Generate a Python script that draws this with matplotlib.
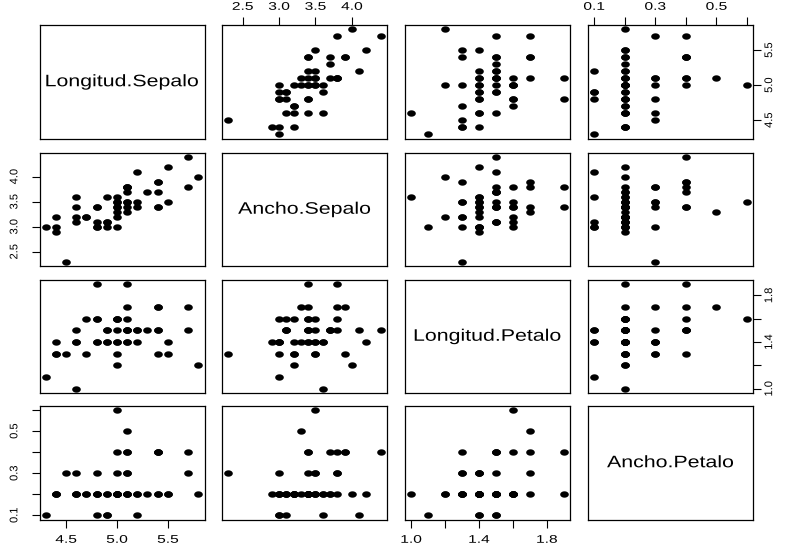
import matplotlib
matplotlib.use("Agg")
import matplotlib.pyplot as plt
import numpy as np
from matplotlib.path import Path
from matplotlib.transforms import Affine2D
from matplotlib.patheffects import AbstractPathEffect

plt.rcParams['font.family'] = ['Liberation Sans', 'DejaVu Sans']

# Iris setosa (50 obs)
longitud_sepalo = [5.1, 4.9, 4.7, 4.6, 5.0, 5.4, 4.6, 5.0, 4.4, 4.9,
                   5.4, 4.8, 4.8, 4.3, 5.8, 5.7, 5.4, 5.1, 5.7, 5.1,
                   5.4, 5.1, 4.6, 5.1, 4.8, 5.0, 5.0, 5.2, 5.2, 4.7,
                   4.8, 5.4, 5.2, 5.5, 4.9, 5.0, 5.5, 4.9, 4.4, 5.1,
                   5.0, 4.5, 4.4, 5.0, 5.1, 4.8, 5.1, 4.6, 5.3, 5.0]
ancho_sepalo = [3.5, 3.0, 3.2, 3.1, 3.6, 3.9, 3.4, 3.4, 2.9, 3.1,
                3.7, 3.4, 3.0, 3.0, 4.0, 4.4, 3.9, 3.5, 3.8, 3.8,
                3.4, 3.7, 3.6, 3.3, 3.4, 3.0, 3.4, 3.5, 3.4, 3.2,
                3.1, 3.4, 4.1, 4.2, 3.1, 3.2, 3.5, 3.6, 3.0, 3.4,
                3.5, 2.3, 3.2, 3.5, 3.8, 3.0, 3.8, 3.2, 3.7, 3.3]
longitud_petalo = [1.4, 1.4, 1.3, 1.5, 1.4, 1.7, 1.4, 1.5, 1.4, 1.5,
                   1.5, 1.6, 1.4, 1.1, 1.2, 1.5, 1.3, 1.4, 1.7, 1.5,
                   1.7, 1.5, 1.0, 1.7, 1.9, 1.6, 1.6, 1.5, 1.4, 1.6,
                   1.6, 1.5, 1.5, 1.4, 1.5, 1.2, 1.3, 1.4, 1.3, 1.5,
                   1.3, 1.3, 1.3, 1.6, 1.9, 1.4, 1.6, 1.4, 1.5, 1.4]
ancho_petalo = [0.2, 0.2, 0.2, 0.2, 0.2, 0.4, 0.3, 0.2, 0.2, 0.1,
                0.2, 0.2, 0.1, 0.1, 0.2, 0.4, 0.4, 0.3, 0.3, 0.3,
                0.2, 0.4, 0.2, 0.5, 0.2, 0.2, 0.4, 0.2, 0.2, 0.2,
                0.2, 0.4, 0.1, 0.2, 0.2, 0.2, 0.2, 0.1, 0.2, 0.2,
                0.3, 0.3, 0.2, 0.6, 0.4, 0.3, 0.2, 0.2, 0.2, 0.2]

var_names = ["Longitud.Sepalo", "Ancho.Sepalo", "Longitud.Petalo", "Ancho.Petalo"]
variables = [longitud_sepalo, ancho_sepalo, longitud_petalo, ancho_petalo]

tick_values = [[4.5, 5.0, 5.5],
               [2.5, 3.0, 3.5, 4.0],
               [1.0, 1.2, 1.4, 1.6, 1.8],
               [0.1, 0.2, 0.3, 0.4, 0.5, 0.6]]
tick_labels = [["4.5", "5.0", "5.5"],
               ["2.5", "3.0", "3.5", "4.0"],
               ["1.0", "", "1.4", "", "1.8"],
               ["0.1", "", "0.3", "", "0.5", ""]]


class HStretch(AbstractPathEffect):
    """Widen text along its baseline about its own centre (mimics the wide R raster font)."""
    def __init__(self, sx):
        super().__init__()
        self.sx = sx

    def draw_path(self, renderer, gc, tpath, affine, rgbFace=None):
        ext = tpath.get_extents()
        cx = 0.5 * (ext.x0 + ext.x1)
        tr = Affine2D().translate(-cx, 0).scale(self.sx, 1).translate(cx, 0) + affine
        renderer.draw_path(gc, tpath, tr, rgbFace)


W, H = 789, 548
fig = plt.figure(figsize=(W / 100, H / 100), dpi=100)

col_x = [39.5, 222, 405, 588]
row_y = [25, 152.5, 279.5, 406]
pw, ph = 165, 113.5

# slightly wide ellipse marker
t = np.linspace(0, 2 * np.pi, 60)
ell = Path(np.column_stack([1.35 * np.cos(t), np.sin(t)]), closed=True)

n = 4
htick_fs = 8
vtick_fs = 8
tick_stretch = [HStretch(1.4)]
vtick_effect = [HStretch(1.0)]
label_stretch = [HStretch(1.28)]
for i in range(n):
    for j in range(n):
        ax = fig.add_axes([col_x[j] / W, 1 - (row_y[i] + ph) / H, pw / W, ph / H])
        for s in ax.spines.values():
            s.set_linewidth(0.9)
        ax.tick_params(which='both', bottom=False, top=False, left=False, right=False,
                       labelbottom=False, labeltop=False, labelleft=False, labelright=False)
        xv = np.asarray(variables[j])
        yv = np.asarray(variables[i])
        ax.set_xlim(xv.min() - 0.04 * np.ptp(xv), xv.max() + 0.04 * np.ptp(xv))
        ax.set_ylim(yv.min() - 0.04 * np.ptp(yv), yv.max() + 0.04 * np.ptp(yv))
        if i == j:
            ax.text(0.5, 0.5, var_names[i], transform=ax.transAxes, ha='center',
                    va='center', fontsize=12, path_effects=label_stretch)
        else:
            ax.plot(xv, yv, linestyle='none', marker=ell, markersize=6.2,
                    color='black', markeredgewidth=0)
        ax.set_xticks(tick_values[j], labels=tick_labels[j])
        ax.set_yticks(tick_values[i], labels=tick_labels[i])
        # R pairs-style alternating axes
        if i == n - 1 and j % 2 == 0:
            ax.tick_params(axis='x', bottom=True, labelbottom=True, direction='out',
                           length=5.5, width=0.8, pad=5.5, labelsize=htick_fs)
            for lab in ax.get_xticklabels():
                lab.set_path_effects(tick_stretch)
        if i == 0 and j % 2 == 1:
            ax.tick_params(axis='x', top=True, labeltop=True, direction='out',
                           length=5.5, width=0.8, pad=4, labelsize=htick_fs)
            for lab in ax.get_xticklabels():
                lab.set_path_effects(tick_stretch)
        if j == 0 and i % 2 == 1:
            ax.tick_params(axis='y', left=True, labelleft=True, direction='out',
                           length=5.5, width=0.8, pad=9, labelsize=vtick_fs)
            for lab in ax.get_yticklabels():
                lab.set_rotation(90)
                lab.set_va('center')
                lab.set_path_effects(vtick_effect)
        if j == n - 1 and i % 2 == 0:
            ax.tick_params(axis='y', right=True, labelright=True, direction='out',
                           length=5.5, width=0.8, pad=2.5, labelsize=vtick_fs)
            for lab in ax.get_yticklabels():
                lab.set_rotation(90)
                lab.set_va('center')
                lab.set_path_effects(vtick_effect)

fig.savefig("out.png", dpi=100)
